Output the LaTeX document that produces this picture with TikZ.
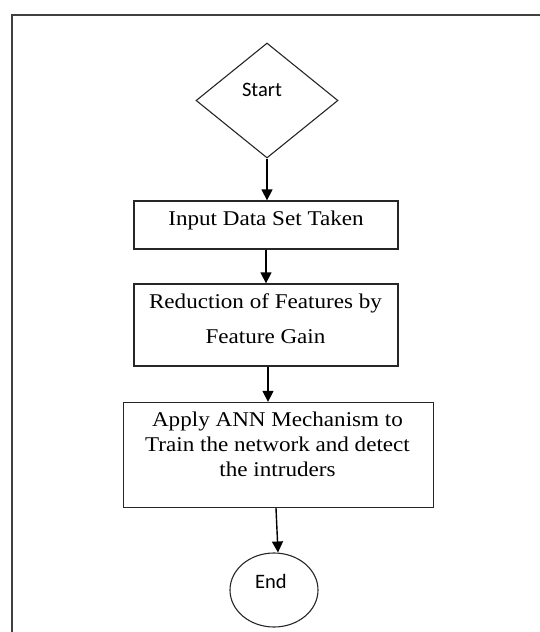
\documentclass[tikz,border=0pt]{standalone}
\usepackage{fontspec}
\setmainfont{Liberation Serif}[FakeStretch=1.1]
\newfontfamily\labelsans{Carlito}
\usetikzlibrary{shapes.geometric,arrows.meta,calc}

\begin{document}
\begin{tikzpicture}[x=1pt,y=-1pt,
  frameline/.style={draw=black!75,line width=2pt},
  stepbox/.style={draw=black!85,line width=1.3pt,rectangle,inner sep=0pt},
  startshape/.style={draw=black!85,line width=1.1pt,diamond,inner sep=0pt,
    minimum width=142pt,minimum height=115pt},
  endshape/.style={draw=black!85,line width=1.1pt,ellipse,inner sep=0pt,
    minimum width=88pt,minimum height=74pt},
  steptext/.style={inner sep=0pt,anchor=base,align=center,
    font=\fontsize{21}{25}\selectfont},
  termtext/.style={inner sep=0pt,anchor=base,font=\labelsans\fontsize{20.5}{24}\selectfont},
  flow/.style={draw=black,line width=1.4pt,-{Triangle[width=11pt,length=11pt]}}]

\useasboundingbox (0,0) rectangle (540,632);

% page frame (only the left and top edges fall inside the figure)
\draw[frameline] (11.5,632) |- (540,14.5);

% shapes
\node[startshape] (start) at (267,100.5) {};
\node[stepbox,minimum width=264pt,minimum height=48pt] (input) at (266,225) {};
\node[stepbox,minimum width=264pt,minimum height=82pt] (reduce) at (266,325) {};
\node[stepbox,minimum width=310pt,minimum height=105pt] (ann) at (278.5,455) {};
\node[endshape] (finish) at (274,590) {};

% labels (the base anchor of a multi-line label sits on its last line)
\node[termtext] (startlbl) at (262,96) {Start};
\node[steptext] (inputlbl) at (266,225) {Input Data Set Taken};
\node[steptext,font=\fontsize{21}{35}\selectfont] (reducelbl) at (265.5,343)
  {Reduction of Features by\\Feature Gain};
\node[steptext,font=\fontsize{21}{24.7}\selectfont] (annlbl) at (277.5,476)
  {Apply ANN Mechanism to\\Train the network and detect\\the intruders};
\node[termtext] (endlbl) at (271,588) {End};

% connectors
\draw[flow] (start.south) -- (start.south |- input.north);
\draw[flow] (input.south) -- (input.south |- reduce.north);
\draw[flow] ([xshift=2pt]reduce.south) -- ([xshift=2pt]reduce.south |- ann.north);
\draw[flow] ([xshift=-2.5pt]ann.south) -- ([xshift=4pt]finish.north);
\end{tikzpicture}
\end{document}
